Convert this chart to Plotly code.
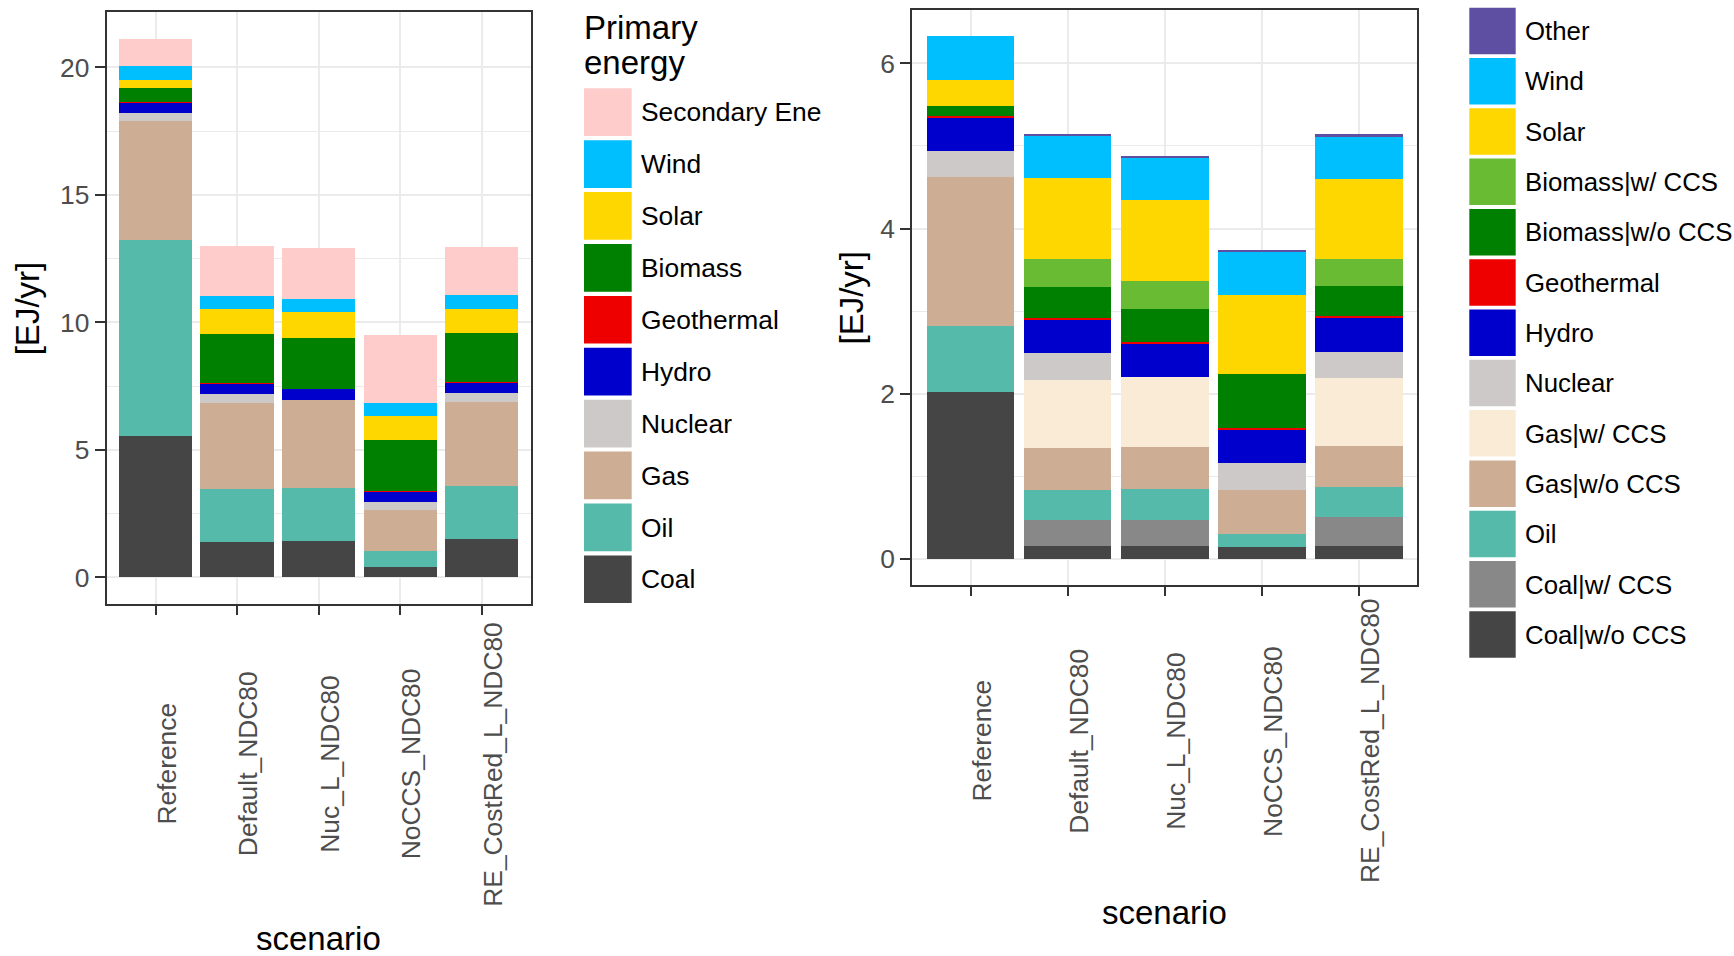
import plotly.graph_objects as go

W, H = 1734, 956
FONT = "Liberation Sans, Arial, sans-serif"

scenarios = ["Reference", "Default_NDC80", "Nuc_L_NDC80", "NoCCS_NDC80", "RE_CostRed_L_NDC80"]

# Primary energy by source [EJ/yr] — stacked from the bottom up
pe_coal = [5.54, 1.39, 1.42, 0.39, 1.52]
pe_oil = [7.70, 2.06, 2.09, 0.65, 2.06]
pe_gas = [4.64, 3.39, 3.44, 1.61, 3.31]
pe_nuclear = [0.32, 0.34, 0.00, 0.29, 0.34]
pe_hydro = [0.42, 0.41, 0.43, 0.43, 0.40]
pe_geothermal = [0.02, 0.03, 0.02, 0.02, 0.03]
pe_biomass = [0.56, 1.92, 2.00, 1.98, 1.91]
pe_solar = [0.32, 1.00, 0.99, 0.96, 0.97]
pe_wind = [0.54, 0.50, 0.51, 0.51, 0.53]
pe_secondary = [1.04, 1.96, 2.03, 2.68, 1.90]

# Electricity generation by source [EJ/yr] — stacked from the bottom up
el_coal_noccs = [2.02, 0.15, 0.16, 0.14, 0.15]
el_coal_ccs = [0.00, 0.32, 0.31, 0.00, 0.36]
el_oil = [0.80, 0.37, 0.38, 0.16, 0.36]
el_gas_noccs = [1.80, 0.50, 0.50, 0.54, 0.50]
el_gas_ccs = [0.00, 0.83, 0.85, 0.00, 0.82]
el_nuclear = [0.32, 0.32, 0.00, 0.32, 0.32]
el_hydro = [0.41, 0.41, 0.41, 0.41, 0.41]
el_geothermal = [0.01, 0.02, 0.02, 0.02, 0.02]
el_bio_noccs = [0.12, 0.37, 0.39, 0.65, 0.37]
el_bio_ccs = [0.00, 0.34, 0.35, 0.00, 0.32]
el_solar = [0.32, 0.98, 0.97, 0.96, 0.97]
el_wind = [0.53, 0.52, 0.52, 0.51, 0.52]
el_other = [0.00, 0.02, 0.02, 0.03, 0.02]

pe_series = [
    ("Coal", pe_coal, "#454545"),
    ("Oil", pe_oil, "#55BAAA"),
    ("Gas", pe_gas, "#CDAE95"),
    ("Nuclear", pe_nuclear, "#CDC9C9"),
    ("Hydro", pe_hydro, "#0000CD"),
    ("Geothermal", pe_geothermal, "#EE0000"),
    ("Biomass", pe_biomass, "#008000"),
    ("Solar", pe_solar, "#FFD700"),
    ("Wind", pe_wind, "#00BFFF"),
    ("Secondary Ene", pe_secondary, "#FFCCCC"),
]

el_series = [
    ("Coal|w/o CCS", el_coal_noccs, "#454545"),
    ("Coal|w/ CCS", el_coal_ccs, "#888888"),
    ("Oil", el_oil, "#55BAAA"),
    ("Gas|w/o CCS", el_gas_noccs, "#CDAE95"),
    ("Gas|w/ CCS", el_gas_ccs, "#FAEBD7"),
    ("Nuclear", el_nuclear, "#CDC9C9"),
    ("Hydro", el_hydro, "#0000CD"),
    ("Geothermal", el_geothermal, "#EE0000"),
    ("Biomass|w/o CCS", el_bio_noccs, "#008000"),
    ("Biomass|w/ CCS", el_bio_ccs, "#68BB33"),
    ("Solar", el_solar, "#FFD700"),
    ("Wind", el_wind, "#00BFFF"),
    ("Other", el_other, "#5E4FA2"),
]


def px(x):
    return x / W


def py(y):
    return 1 - y / H


fig = go.Figure()

for name, vals, col in pe_series:
    fig.add_trace(go.Bar(x=scenarios, y=vals, name=name, marker=dict(color=col, line=dict(width=0)),
                         xaxis="x", yaxis="y", showlegend=False))
for name, vals, col in el_series:
    fig.add_trace(go.Bar(x=scenarios, y=vals, name=name, marker=dict(color=col, line=dict(width=0)),
                         xaxis="x2", yaxis="y2", showlegend=False))


def stack_range(series):
    top = max(sum(s[1][i] for s in series) for i in range(len(scenarios)))
    return [-0.05 * top, 1.05 * top]


GRID = "#EBEBEB"
BORDER = "#333333"
TICKFONT = dict(family=FONT, size=26.4, color="#4D4D4D")

# discrete axis padded by 0.6 of a category on each side
xcommon = dict(type="category", range=[-0.6, len(scenarios) - 0.4], showgrid=True, gridcolor=GRID, gridwidth=2,
               showline=True, linecolor=BORDER, linewidth=2, mirror=True,
               ticks="outside", ticklen=9, tickwidth=2, tickcolor=BORDER, showticklabels=False,
               fixedrange=True)
ycommon = dict(showgrid=True, gridcolor=GRID, gridwidth=2, zeroline=False,
               showline=True, linecolor=BORDER, linewidth=2, mirror=True,
               ticks="outside", ticklen=10, tickwidth=2, tickcolor=BORDER,
               tickfont=TICKFONT, fixedrange=True)

fig.update_layout(
    width=W, height=H, margin=dict(l=0, r=0, t=0, b=0),
    paper_bgcolor="white", plot_bgcolor="white",
    barmode="stack", bargap=0.1, showlegend=False,
    xaxis=dict(domain=[px(106.7), px(530.7)], anchor="y", **xcommon),
    yaxis=dict(domain=[py(604.3), py(12.3)], anchor="x", range=stack_range(pe_series),
               tickvals=[0, 5, 10, 15, 20],
               minor=dict(tickvals=[2.5, 7.5, 12.5, 17.5], showgrid=True, gridcolor=GRID, gridwidth=1, ticks=""),
               **ycommon),
    xaxis2=dict(domain=[px(912.3), px(1417.3)], anchor="y2", **xcommon),
    yaxis2=dict(domain=[py(585), py(10)], anchor="x2", range=stack_range(el_series),
                tickvals=[0, 2, 4, 6],
                minor=dict(tickvals=[1, 3, 5], showgrid=True, gridcolor=GRID, gridwidth=1, ticks=""),
                **ycommon),
)

ann = []
# rotated scenario labels under each bar
for xa, yc in (("x", 764), ("x2", 741)):
    for s in scenarios:
        ann.append(dict(x=s, xref=xa, y=py(yc), yref="paper", text=s, showarrow=False,
                        textangle=-90, xanchor="center", yanchor="middle", xshift=11,
                        font=TICKFONT))

TITLEFONT = dict(family=FONT, size=33, color="black")
# axis titles
ann.append(dict(x=px(27), y=py(308.3), xref="paper", yref="paper", text="[EJ/yr]", textangle=-90,
                showarrow=False, xanchor="center", yanchor="middle", font=TITLEFONT))
ann.append(dict(x=px(851), y=py(297.5), xref="paper", yref="paper", text="[EJ/yr]", textangle=-90,
                showarrow=False, xanchor="center", yanchor="middle", font=TITLEFONT))
ann.append(dict(x=px(318.7), y=py(938), xref="paper", yref="paper", text="scenario",
                showarrow=False, xanchor="center", yanchor="middle", font=TITLEFONT))
ann.append(dict(x=px(1164.8), y=py(912), xref="paper", yref="paper", text="scenario",
                showarrow=False, xanchor="center", yanchor="middle", font=TITLEFONT))

shapes = []
LEGFONT = dict(family=FONT, size=26.4, color="black")

# legend for primary energy (top entry = top of stack)
ann.append(dict(x=px(582), y=py(27), xref="paper", yref="paper", text="Primary",
                showarrow=False, xanchor="left", yanchor="middle", font=TITLEFONT))
ann.append(dict(x=px(582), y=py(63), xref="paper", yref="paper", text="energy",
                showarrow=False, xanchor="left", yanchor="middle", font=TITLEFONT))
for i, (name, _, col) in enumerate(reversed(pe_series)):
    top = 88.3 + i * 51.9
    shapes.append(dict(type="rect", xref="paper", yref="paper", x0=px(584), x1=px(631.7),
                       y0=py(top + 47.7), y1=py(top), fillcolor=col, line=dict(width=0)))
    ann.append(dict(x=px(639), y=py(top + 24), xref="paper", yref="paper", text=name,
                    showarrow=False, xanchor="left", yanchor="middle", font=LEGFONT))

# legend for electricity
for i, (name, _, col) in enumerate(reversed(el_series)):
    top = 7.7 + i * 50.3
    shapes.append(dict(type="rect", xref="paper", yref="paper", x0=px(1469.3), x1=px(1515.7),
                       y0=py(top + 46.5), y1=py(top), fillcolor=col, line=dict(width=0)))
    ann.append(dict(x=px(1523), y=py(top + 23.5), xref="paper", yref="paper", text=name,
                    showarrow=False, xanchor="left", yanchor="middle",
                    font=dict(family=FONT, size=25.8, color="black")))

fig.update_layout(annotations=ann, shapes=shapes)
fig.write_html("out.html")
